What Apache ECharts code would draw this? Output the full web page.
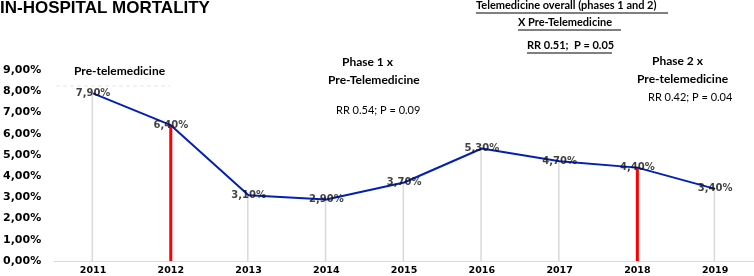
<!DOCTYPE html>
<html><head><meta charset="utf-8">
<script src="https://cdn.jsdelivr.net/npm/echarts@6/dist/echarts.min.js"></script>
<style>html,body{margin:0;padding:0;background:#fff}#c{width:754px;height:276px}</style>
</head><body><div id="c"></div>
<script>
const years = ['2011','2012','2013','2014','2015','2016','2017','2018','2019'];
const mortality = [7.9, 6.4, 3.1, 2.9, 3.7, 5.3, 4.7, 4.4, 3.4];
const redYears = ['2012','2018'];
const yTicks = [0,1,2,3,4,5,6,7,8,9];

const fmt = v => v.toFixed(2).replace('.', ',') + '%';
const redData = years.map((y,i) => redYears.includes(y) ? mortality[i] : '-');

const chart = echarts.init(document.getElementById('c'));
chart.setOption({
  animation:false,
  grid:{left:54,right:0,top:70,bottom:14},
  xAxis:{type:'category', data:years,
    axisLine:{lineStyle:{color:'#d9d9d9'}}, axisTick:{show:false},
    axisLabel:{color:'#000', fontFamily:'DejaVu Sans', fontWeight:'bold', fontSize:9.5, margin:5}},
  yAxis:{type:'value', min:yTicks[0], max:yTicks[yTicks.length-1], interval:1, splitLine:{show:false},
    axisLabel:{color:'#000', fontFamily:'DejaVu Sans', fontWeight:'bold', fontSize:11, margin:13, formatter:v=>fmt(v)}},
  series:[
    {type:'bar', data:mortality, barWidth:1.5, itemStyle:{color:'#d9d9d9'}, silent:true},
    {type:'bar', data:redData, barWidth:3, barGap:'-100%', itemStyle:{color:'#ff0000'}, silent:true},
    {type:'line', data:mortality, symbol:'none', lineStyle:{color:'#0020b8', width:2}, z:3},
    {type:'scatter', data:mortality, symbolSize:2, itemStyle:{color:'rgba(0,0,0,0)'}, z:4,
      label:{show:true, position:'inside', formatter:p=>fmt(p.value), color:'#111', fontFamily:'DejaVu Sans', fontWeight:'bold', fontSize:10}}
  ],
  graphic:[
    {type:'text', left:0, top:0, style:{text:'IN-HOSPITAL MORTALITY', fill:'#000', font:'bold 17px "Liberation Sans"'}},
    {type:'line', shape:{x1:56,y1:86,x2:170,y2:86}, style:{stroke:'#e6e6e6', lineDash:[4,3], lineWidth:1}},
    {type:'text', left:74, top:65, style:{text:'Pre-telemedicine', fill:'#000', font:'bold 12px Lato'}},
    {type:'text', left:342, top:56, style:{text:'Phase 1 x', fill:'#000', font:'bold 12px Lato'}},
    {type:'text', left:328, top:74, style:{text:'Pre-Telemedicine', fill:'#000', font:'bold 12px Lato'}},
    {type:'text', left:336, top:105, style:{text:'RR 0.54; P = 0.09', fill:'#000', font:'11px Lato'}},
    {type:'text', left:476, top:0, style:{text:'Telemedicine overall (phases 1 and 2)', fill:'#000', font:'bold 11px Lato'}},
    {type:'line', shape:{x1:476,y1:13,x2:668,y2:13}, style:{stroke:'#000', lineWidth:1}},
    {type:'text', left:518, top:17, style:{text:'X Pre-Telemedicine', fill:'#000', font:'bold 11px Lato'}},
    {type:'line', shape:{x1:518,y1:30,x2:621,y2:30}, style:{stroke:'#000', lineWidth:1}},
    {type:'text', left:527, top:40, style:{text:'RR 0.51;  P = 0.05', fill:'#000', font:'bold 11px Lato'}},
    {type:'line', shape:{x1:527,y1:53,x2:612,y2:53}, style:{stroke:'#000', lineWidth:1}},
    {type:'text', left:652, top:55, style:{text:'Phase 2 x', fill:'#000', font:'bold 12px Lato'}},
    {type:'text', left:637, top:73, style:{text:'Pre-telemedicine', fill:'#000', font:'bold 12px Lato'}},
    {type:'text', left:648, top:92, style:{text:'RR 0.42; P = 0.04', fill:'#000', font:'11px Lato'}}
  ]
});
</script></body></html>
